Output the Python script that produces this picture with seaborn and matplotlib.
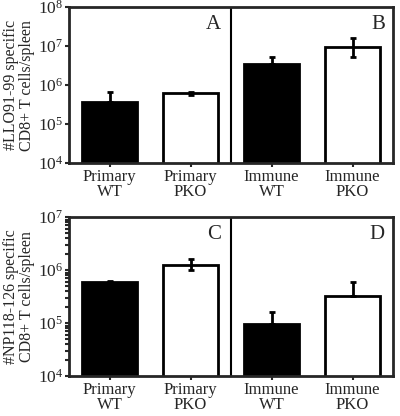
import numpy as np
import pandas as pd
import matplotlib
matplotlib.use("Agg")
import matplotlib.pyplot as plt
import matplotlib.ticker as mticker
import seaborn as sns

# data
groups = ["Primary\nWT", "Primary\nPKO", "Immune\nWT", "Immune\nPKO"]
colors = ["black", "white", "black", "white"]

llo_mean = [3.7e5, 6.2e5, 3.5e6, 9.4e6]
llo_lo = [3.7e5, 5.6e5, 3.5e6, 5.3e6]
llo_hi = [6.6e5, 6.8e5, 5.3e6, 1.6e7]

np_mean = [6.0e5, 1.26e6, 9.8e4, 3.3e5]
np_lo = [6.0e5, 1.0e6, 9.8e4, 3.3e5]
np_hi = [6.3e5, 1.6e6, 1.65e5, 6.0e5]

sns.set_style("ticks")
plt.rcParams["font.family"] = ["Liberation Serif", "DejaVu Serif"]
plt.rcParams["mathtext.fontset"] = "stix"
plt.rcParams["font.size"] = 11


def panel(ax, mean, lo, hi, ylim, ylabel, letters, minor):
    df = pd.DataFrame({"group": groups, "value": mean})
    sns.barplot(data=df, x="group", y="value", hue="group", palette=colors,
                edgecolor="black", linewidth=2, width=0.69, legend=False, ax=ax)
    ax.set_yscale("log")
    x = np.arange(len(groups))
    m = np.array(mean)
    ax.errorbar(x, m, yerr=[m - np.array(lo), np.array(hi) - m], fmt="none",
                ecolor="black", elinewidth=2, capsize=2.5, capthick=2)
    ax.set_ylim(*ylim)
    ax.set_xlim(-0.5, 3.5)
    ax.axvline(1.5, color="black", lw=1.5)
    ax.set_xlabel("")
    ax.set_ylabel(ylabel, fontsize=11.5, labelpad=2, linespacing=1.05)
    ax.yaxis.set_major_locator(mticker.LogLocator(base=10, numticks=10))
    if minor:
        ax.yaxis.set_minor_locator(mticker.LogLocator(base=10, subs=np.arange(2, 10), numticks=10))
        ax.tick_params(axis="y", which="minor", length=3, width=1.5)
    else:
        ax.yaxis.set_minor_locator(mticker.NullLocator())
    ax.tick_params(axis="y", which="major", length=3, width=1.5, labelsize=12.5, pad=1)
    ax.tick_params(axis="x", length=3, width=1.5, labelsize=12, pad=1)
    for lab in ax.get_xticklabels():
        lab.set_linespacing(0.95)
    for s in ax.spines.values():
        s.set_linewidth(2)
    ax.text(0.47, 0.86, letters[0], transform=ax.transAxes, ha="right", fontsize=15)
    ax.text(0.975, 0.86, letters[1], transform=ax.transAxes, ha="right", fontsize=15)


fig = plt.figure(figsize=(4.0, 4.16), dpi=100)
ax1 = fig.add_axes([0.1725, 0.608, 0.81, 0.375])
ax2 = fig.add_axes([0.1725, 0.096, 0.81, 0.382])

panel(ax1, llo_mean, llo_lo, llo_hi, (1e4, 1e8),
      "#LLO91-99 specific\nCD8+ T cells/spleen", ("A", "B"), False)
panel(ax2, np_mean, np_lo, np_hi, (1e4, 1e7),
      "#NP118-126 specific\nCD8+ T cells/spleen", ("C", "D"), True)

fig.savefig("out.png", dpi=100)
